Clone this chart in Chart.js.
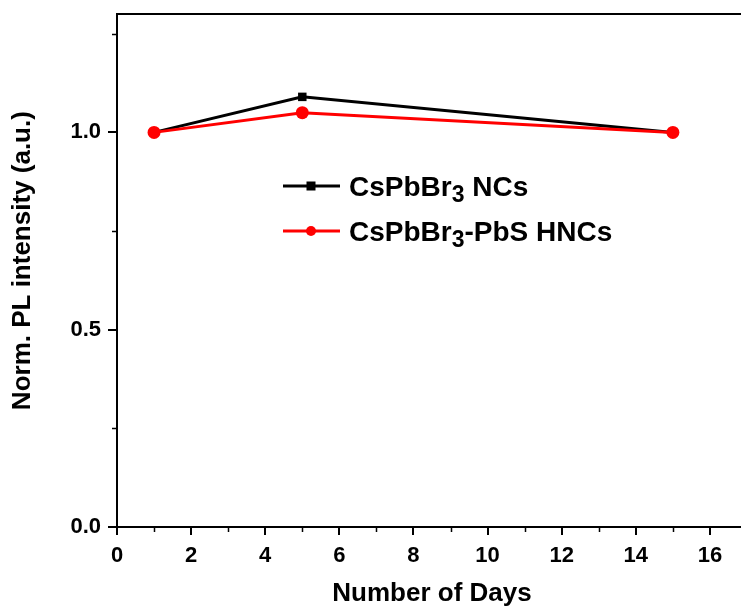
<!DOCTYPE html>
<html>
<head>
<meta charset="utf-8">
<script src="https://cdn.jsdelivr.net/npm/chart.js@4/dist/chart.umd.min.js"></script>
<style>
  html, body { margin: 0; padding: 0; background: #fff; overflow: hidden; }
  #wrap { width: 760px; height: 607px; }
</style>
</head>
<body>
<div id="wrap"><canvas id="c" width="760" height="607"></canvas></div>
<script>
// Storage days and normalised PL intensity of the two samples
const days = [1, 5, 15];
const nanocrystals = [1.00, 1.09, 1.00];
const heteroNanocrystals = [1.00, 1.05, 1.00];

// Axis ticks
const xTicks = [0, 2, 4, 6, 8, 10, 12, 14, 16];
const xMinorTicks = [1, 3, 5, 7, 9, 11, 13, 15];
const yTicks = [0.0, 0.5, 1.0];
const yMinorTicks = [0.25, 0.75, 1.25];

const yTitle = 'Norm. PL intensity (a.u.)';
const FONT = "'Liberation Sans', Arial, sans-serif";

// Legend entries: main text, subscript, trailing text
const legendItems = [
  { pre: 'CsPbBr', sub: '3', post: ' NCs', color: '#000000', style: 'rect' },
  { pre: 'CsPbBr', sub: '3', post: '-PbS HNCs', color: '#ff0000', style: 'circle' }
];

// Frame line, minor ticks, y title and the legend with subscripted formulas
const decorations = {
  id: 'decorations',
  afterDraw(chart) {
    const { ctx, chartArea: a, scales: { x, y } } = chart;
    ctx.save();
    ctx.strokeStyle = '#000';
    ctx.lineWidth = 2;
    ctx.beginPath();
    ctx.moveTo(a.left - 1, a.top);
    ctx.lineTo(a.right + 2, a.top);
    ctx.stroke();

    ctx.lineWidth = 1.5;
    ctx.beginPath();
    xMinorTicks.forEach(v => {
      const px = Math.round(x.getPixelForValue(v)) + 0.5;
      ctx.moveTo(px, a.bottom);
      ctx.lineTo(px, a.bottom + 5);
    });
    yMinorTicks.forEach(v => {
      const py = Math.round(y.getPixelForValue(v)) + 0.5;
      ctx.moveTo(a.left, py);
      ctx.lineTo(a.left - 5, py);
    });
    ctx.stroke();

    // y axis title
    ctx.save();
    ctx.translate(23, y.getPixelForValue(0.675));
    ctx.rotate(-Math.PI / 2);
    ctx.font = 'bold 26px ' + FONT;
    ctx.fillStyle = '#000';
    ctx.textAlign = 'center';
    ctx.textBaseline = 'middle';
    ctx.fillText(yTitle, 0, 0);
    ctx.restore();

    // legend
    const lx = a.left + 166, ly = a.top + 172, rowGap = 45;
    legendItems.forEach((it, i) => {
      const yy = ly + i * rowGap;
      ctx.strokeStyle = it.color;
      ctx.fillStyle = it.color;
      ctx.lineWidth = 3;
      ctx.beginPath();
      ctx.moveTo(lx, yy);
      ctx.lineTo(lx + 57, yy);
      ctx.stroke();
      const mx = lx + 28;
      if (it.style === 'rect') {
        ctx.fillRect(mx - 4.5, yy - 4.5, 9, 9);
      } else {
        ctx.beginPath();
        ctx.arc(mx, yy, 5, 0, Math.PI * 2);
        ctx.fill();
      }
      ctx.fillStyle = '#000';
      ctx.textBaseline = 'alphabetic';
      ctx.textAlign = 'left';
      let tx = lx + 66;
      const base = yy + 10;
      ctx.font = 'bold 28px ' + FONT;
      ctx.fillText(it.pre, tx, base);
      tx += ctx.measureText(it.pre).width;
      ctx.font = 'bold 23px ' + FONT;
      ctx.fillText(it.sub, tx, base + 6);
      tx += ctx.measureText(it.sub).width;
      ctx.font = 'bold 28px ' + FONT;
      ctx.fillText(it.post, tx, base);
    });
    ctx.restore();
  }
};

new Chart(document.getElementById('c'), {
  type: 'line',
  data: {
    datasets: [
      {
        label: 'CsPbBr3 NCs',
        data: days.map((d, i) => ({ x: d, y: nanocrystals[i] })),
        borderColor: '#000000',
        backgroundColor: '#000000',
        borderWidth: 3,
        pointStyle: 'rect',
        pointRadius: 6,
        pointBorderWidth: 0,
        order: 1
      },
      {
        label: 'CsPbBr3-PbS HNCs',
        data: days.map((d, i) => ({ x: d, y: heteroNanocrystals[i] })),
        borderColor: '#ff0000',
        backgroundColor: '#ff0000',
        borderWidth: 3,
        pointStyle: 'circle',
        pointRadius: 6.5,
        pointBorderWidth: 0,
        order: 0
      }
    ]
  },
  options: {
    responsive: false,
    animation: false,
    layout: { padding: { left: 0, top: 14, right: 13, bottom: 0 } },
    plugins: { legend: { display: false }, tooltip: { enabled: false } },
    scales: {
      x: {
        type: 'linear',
        min: 0,
        max: 17,
        afterFit(s) { s.height = 80; s.paddingLeft = 0; s.paddingRight = 0; },
        afterBuildTicks(s) { s.ticks = xTicks.map(v => ({ value: v })); },
        grid: { drawOnChartArea: false, drawTicks: true, tickLength: 8, color: '#000', lineWidth: 2 },
        border: { display: true, color: '#000', width: 2 },
        ticks: { color: '#000', padding: 8, font: { family: FONT, size: 22, weight: 'bold' }, maxRotation: 0 },
        title: { display: true, text: 'Number of Days', color: '#000', padding: { top: 0, bottom: -2 }, font: { family: FONT, size: 26, weight: 'bold' } }
      },
      y: {
        type: 'linear',
        min: 0,
        max: 1.3,
        afterFit(s) { s.width = 117; s.paddingTop = 0; s.paddingBottom = 0; },
        afterBuildTicks(s) { s.ticks = yTicks.map(v => ({ value: v })); },
        grid: { drawOnChartArea: false, drawTicks: true, tickLength: 9, color: '#000', lineWidth: 2 },
        border: { display: true, color: '#000', width: 2 },
        ticks: { color: '#000', padding: 7, font: { family: FONT, size: 22, weight: 'bold' }, callback: v => v.toFixed(1) },
        title: { display: false }
      }
    }
  },
  plugins: [decorations]
});
</script>
</body>
</html>
